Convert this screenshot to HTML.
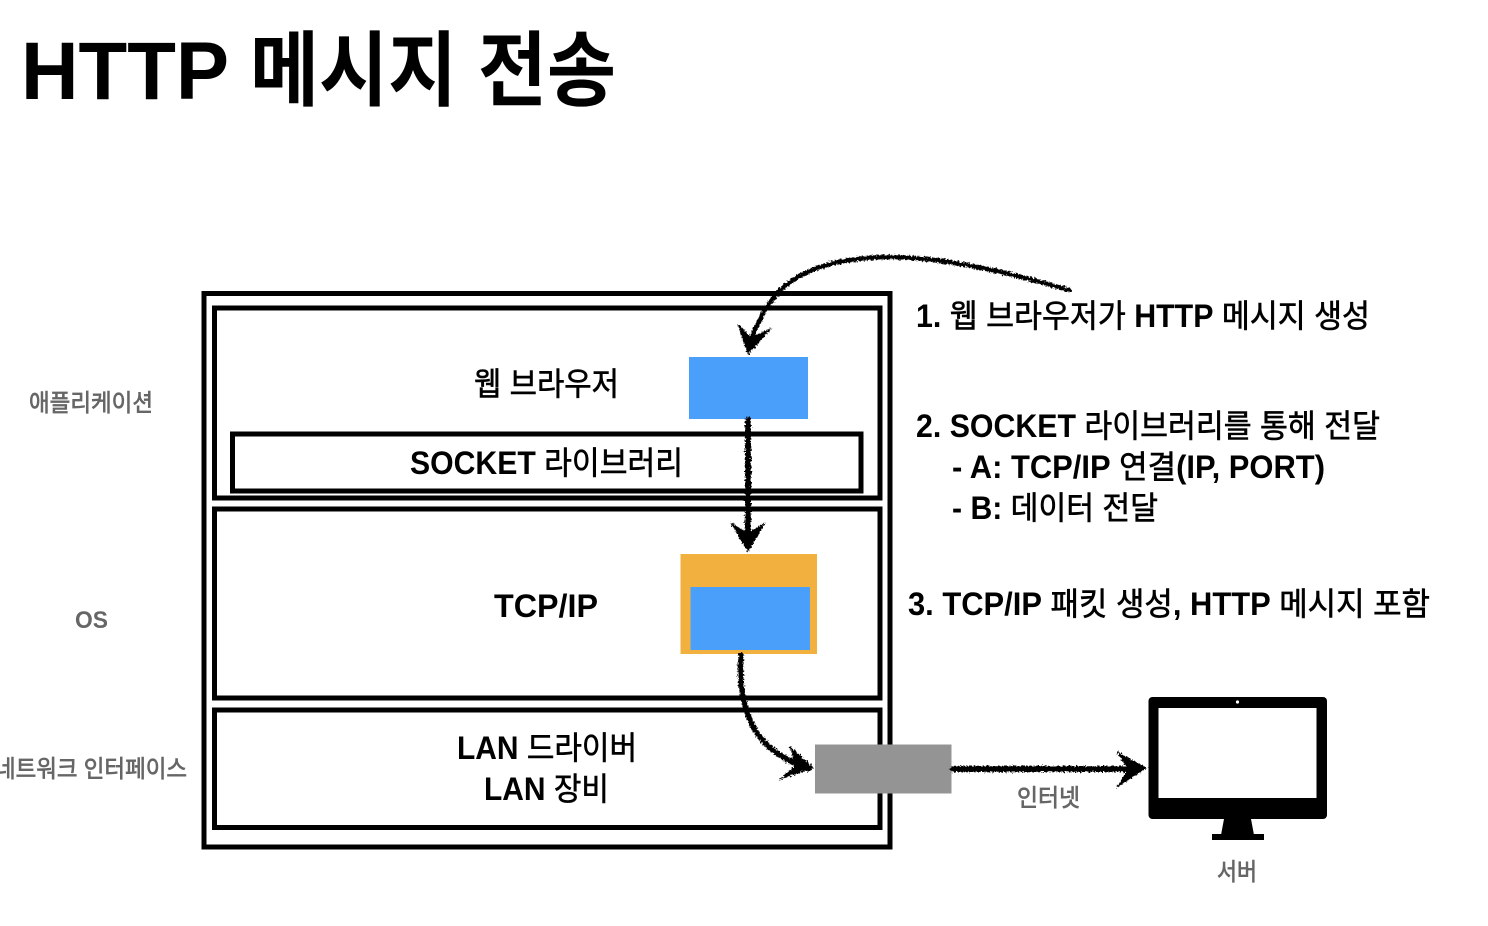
<!DOCTYPE html>
<html lang="ko">
<head>
<meta charset="utf-8">
<title>HTTP 메시지 전송</title>
<style>
html,body{margin:0;padding:0;background:#fff;width:1488px;height:926px;overflow:hidden}
svg{display:block}
text{font-family:"Liberation Sans","Noto Sans CJK KR","NanumGothic",sans-serif}
.l{font-size:32px;fill:#000;stroke:#000;stroke-width:.6px}
.g{font-size:24px;fill:#666;stroke:#666;stroke-width:.7px}
.b{font-weight:700;stroke-width:0}
</style>
</head>
<body>
<svg width="1488" height="926" viewBox="0 0 1488 926" xmlns="http://www.w3.org/2000/svg">
<defs>
<filter id="r" x="-20%" y="-20%" width="140%" height="140%">
<feTurbulence type="fractalNoise" baseFrequency="0.55" numOctaves="3" seed="4"/>
<feDisplacementMap in="SourceGraphic" scale="5" xChannelSelector="R" yChannelSelector="G"/>
</filter>
</defs>
<rect width="1488" height="926" fill="#fff"/>

<text x="21" y="99" font-size="82" font-weight="700" fill="#000" textLength="208" lengthAdjust="spacingAndGlyphs">HTTP</text>
<text x="250" y="99" font-size="82" font-weight="700" fill="#000" textLength="366" lengthAdjust="spacingAndGlyphs">메시지 전송</text>

<g fill="none" stroke="#000" stroke-width="5">
<rect x="204" y="293.5" width="686" height="553.5"/>
<rect x="214.5" y="308" width="665.5" height="190"/>
<rect x="232.5" y="434" width="628.5" height="57"/>
<rect x="214.5" y="509" width="665.5" height="189"/>
<rect x="214.5" y="710" width="665.5" height="117.500"/>
</g>

<rect x="689" y="357" width="119" height="62" fill="#4a9ffa"/>
<rect x="680.5" y="554" width="136.5" height="100" fill="#f2b03e"/>
<rect x="690.500" y="587" width="119.500" height="63" fill="#4a9ffa"/>
<rect x="815" y="744.500" width="136.500" height="49" fill="#949494"/>

<text class="l" x="474" y="395" textLength="145" lengthAdjust="spacingAndGlyphs">웹 브라우저</text>
<text class="l" x="410" y="474" textLength="273" lengthAdjust="spacingAndGlyphs"><tspan class="b">SOCKET</tspan> 라이브러리</text>
<text class="l" x="494" y="617" textLength="104" lengthAdjust="spacingAndGlyphs"><tspan class="b">TCP/IP</tspan></text>
<text class="l" x="457" y="759" textLength="180" lengthAdjust="spacingAndGlyphs"><tspan class="b">LAN</tspan> 드라이버</text>
<text class="l" x="484" y="800" textLength="125" lengthAdjust="spacingAndGlyphs"><tspan class="b">LAN</tspan> 장비</text>

<text class="g" x="29" y="411" textLength="124" lengthAdjust="spacingAndGlyphs">애플리케이션</text>
<text class="g" x="75" y="628" textLength="33" lengthAdjust="spacingAndGlyphs"><tspan class="b">OS</tspan></text>
<text class="g" x="-5" y="777" textLength="192" lengthAdjust="spacingAndGlyphs">네트워크 인터페이스</text>
<text class="g" x="1017" y="806" textLength="63" lengthAdjust="spacingAndGlyphs">인터넷</text>
<text class="g" x="1217" y="880" textLength="40" lengthAdjust="spacingAndGlyphs">서버</text>

<text class="l" x="916" y="327" textLength="454" lengthAdjust="spacingAndGlyphs"><tspan class="b">1.</tspan> 웹 브라우저가 <tspan class="b">HTTP</tspan> 메시지 생성</text>
<text class="l" x="916" y="437" textLength="464" lengthAdjust="spacingAndGlyphs"><tspan class="b">2. SOCKET</tspan> 라이브러리를 통해 전달</text>
<text class="l" x="952" y="478" textLength="373" lengthAdjust="spacingAndGlyphs"><tspan class="b">- A: TCP/IP</tspan> 연결<tspan class="b">(IP, PORT)</tspan></text>
<text class="l" x="952" y="519" textLength="206" lengthAdjust="spacingAndGlyphs"><tspan class="b">- B:</tspan> 데이터 전달</text>
<text class="l" x="908" y="615" textLength="522" lengthAdjust="spacingAndGlyphs"><tspan class="b">3. TCP/IP</tspan> 패킷 생성<tspan class="b">, HTTP</tspan> 메시지 포함</text>

<g filter="url(#r)">
<g fill="none" stroke="#000" stroke-linecap="round">
<path d="M1069 290 C1010 273 950 258 890 257 C830 257 792 275 776 295 C763 310 755 328 749 345" stroke-width="4.500"/>
<path d="M748 420 L748 545" stroke-width="6"/>
<path d="M741 655 C738 695 748 725 765 743 C778 756 792 762 808 769" stroke-width="5.500"/>
<path d="M953 769 L1140 769" stroke-width="6"/>
</g>
<g fill="#000">
<path d="M748 355 L737 323 L751 337 L772 328 Z"/>
<path d="M748 552 L730 522 L748 533 L766 522 Z"/>
<path d="M814 768 L789 745 L795 765 L779 780 Z"/>
<path d="M1147 768 L1116 751 L1128 769 L1116 788 Z"/>
</g>
</g>

<rect x="1148.500" y="697" width="178.500" height="122" rx="4" fill="#000"/>
<rect x="1158.500" y="708" width="158" height="90" fill="#fff"/>
<circle cx="1237.500" cy="702" r="1.600" fill="#fff"/>
<path d="M1224 819 L1251 819 L1254 835 L1221 835 Z" fill="#000"/>
<rect x="1212" y="834" width="52" height="6" fill="#000"/>
</svg>
</body>
</html>
